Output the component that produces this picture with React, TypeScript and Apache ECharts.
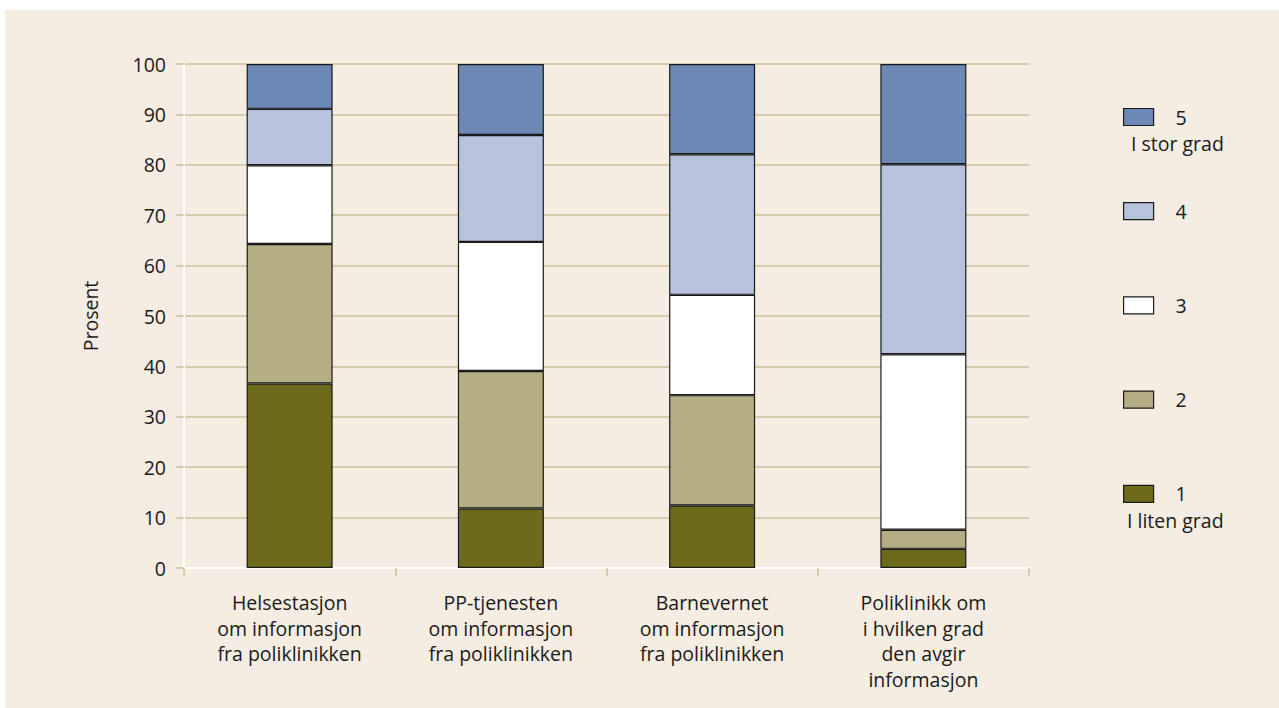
import React, { useEffect, useRef } from "react";
import * as echarts from "echarts";

const categories = [
  "Helsestasjon\nom informasjon\nfra poliklinikken",
  "PP-tjenesten\nom informasjon\nfra poliklinikken",
  "Barnevernet\nom informasjon\nfra poliklinikken",
  "Poliklinikk om\ni hvilken grad\nden avgir\ninformasjon",
];
const seriesNames = ["1", "2", "3", "4", "5"];
const values1 = [36.6, 11.8, 12.4, 3.8];
const values2 = [27.7, 27.3, 21.9, 3.8];
const values3 = [15.6, 25.6, 19.9, 34.8];
const values4 = [11.2, 21.2, 27.9, 37.7];
const values5 = [8.9, 14.1, 17.9, 19.9];
const seriesValues = [values1, values2, values3, values4, values5];
const seriesColors = ["#6e6a1b", "#b5ae84", "#ffffff", "#b7c3dc", "#6b89b4"];
const yTicks = { min: 0, max: 100, interval: 10 };
const legendNotes = ["I stor grad", "I liten grad"];

const FONT = "'Open Sans', 'Noto Sans', sans-serif";
const FS = 19.5;
const TEXT = "#1a1a1a";
const GRIDC = "#cbc29c";

export default function App() {
  const ref = useRef<HTMLDivElement>(null);
  useEffect(() => {
    if (!ref.current) return;
    const chart = echarts.init(ref.current, null, { renderer: "svg" });
    chart.setOption({
      animation: false,
      backgroundColor: "transparent",
      textStyle: { fontFamily: FONT },
      grid: { left: 184, right: 250, top: 64, bottom: 140, containLabel: false },
      legend: {
        orient: "vertical",
        left: 1123,
        top: 107,
        padding: 0,
        itemWidth: 30,
        itemHeight: 17,
        itemGap: 74.2,
        icon: "rect",
        data: ["5", "4", "3", "2", "1"],
        itemStyle: { borderColor: "#1a1a1a", borderWidth: 1.2 },
        textStyle: {
          fontFamily: FONT,
          fontSize: FS,
          lineHeight: 17,
          height: 17,
          color: TEXT,
          padding: [0, 0, 0, 17],
        },
      },
      graphic: [
        {
          type: "text",
          left: 1131,
          top: 133,
          style: { text: legendNotes[0], font: `${FS}px ${FONT}`, fill: TEXT },
        },
        {
          type: "text",
          left: 1127,
          top: 510,
          style: { text: legendNotes[1], font: `${FS}px ${FONT}`, fill: TEXT },
        },
      ],
      xAxis: {
        type: "category",
        data: categories,
        axisLine: { show: true, lineStyle: { color: "#ffffff", width: 2 } },
        axisTick: { show: true, length: 8, lineStyle: { color: GRIDC, width: 1.5 } },
        axisLabel: {
          margin: 22,
          fontSize: FS,
          lineHeight: 25.5,
          color: TEXT,
          fontFamily: FONT,
          interval: 0,
        },
      },
      yAxis: {
        type: "value",
        min: yTicks.min,
        max: yTicks.max,
        interval: yTicks.interval,
        name: "Prosent",
        nameLocation: "middle",
        nameGap: 84,
        nameTextStyle: { fontSize: FS, color: TEXT, fontFamily: FONT },
        axisLine: { show: true, lineStyle: { color: "#ffffff", width: 2 } },
        axisTick: { show: true, length: 8, lineStyle: { color: GRIDC, width: 1.5 } },
        axisLabel: { margin: 18, fontSize: FS, color: TEXT, fontFamily: FONT },
        splitLine: { show: true, lineStyle: { color: GRIDC, width: 1.5 } },
      },
      series: seriesNames.map((name, i) => ({
        name,
        type: "bar",
        stack: "total",
        barWidth: 86,
        data: seriesValues[i],
        itemStyle: { color: seriesColors[i], borderColor: "#1a1a1a", borderWidth: 1.2 },
        z: 3,
      })),
    });
    return () => chart.dispose();
  }, []);
  return (
    <div style={{ position: "fixed", left: 0, top: 0, width: 1279, height: 708, background: "#ffffff" }}>
      <div style={{ position: "absolute", left: 5, top: 10, right: 0, bottom: 0, background: "#f5ede1" }} />
      <div ref={ref} style={{ position: "absolute", left: 0, top: 0, width: 1279, height: 708 }} />
    </div>
  );
}
